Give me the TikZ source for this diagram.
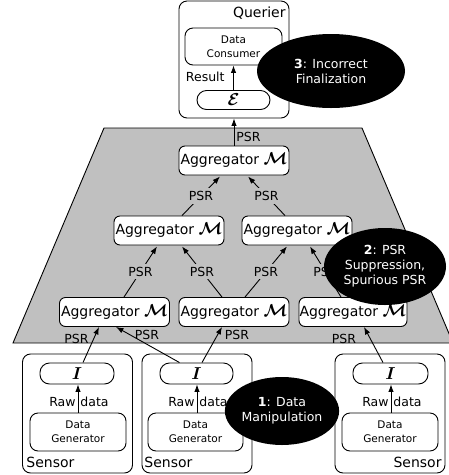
\documentclass[tikz,border=0pt]{standalone}
\usepackage{fontspec}
\setmainfont{DejaVu Sans}
\usepackage{bm}
\usetikzlibrary{arrows.meta,calc,shapes.geometric}
\newcommand\bigtxt{\fontsize{14}{16}\selectfont}
\newcommand\midtxt{\fontsize{12.5}{15}\selectfont}
\newcommand\smalltxt{\fontsize{10.5}{14}\selectfont}
\newcommand\symM{{\fontsize{16}{16}\selectfont$\bm{\mathcal{M}}$}}
\definecolor{trapgray}{RGB}{192,192,192}
\begin{document}
\begin{tikzpicture}[x=1pt,y=-1pt,line width=0.9pt,
  box/.style={draw,rounded corners=6pt,fill=white,inner sep=0pt},
  agg/.style={box,minimum width=110pt,minimum height=29pt,font=\bigtxt},
  pill/.style={box,rounded corners=9.5pt,minimum height=19pt},
  sensorbox/.style={draw,rounded corners=8pt,minimum width=110pt,minimum height=119pt,inner sep=0pt},
  genbox/.style={box,rounded corners=8pt,minimum width=96pt,minimum height=38pt,align=center,font=\smalltxt},
  arr/.style={-{Latex[length=7.5pt,width=5.5pt]}},
  lbl/.style={font=\midtxt,inner sep=2pt},
  onl/.style={lbl,fill=trapgray,inner sep=3pt},
  threat/.style={ellipse,fill=black,text=white,inner sep=0pt,align=center,font=\midtxt}
]
\useasboundingbox (0,0) rectangle (449,475);
\clip (0,0) rectangle (449,475);

% trust region
\draw[fill=trapgray] (104,128) -- (362,128) -- (453,343) -- (13,343) -- cycle;

% querier
\node[draw,rounded corners=8pt,minimum width=110pt,minimum height=117pt,inner sep=0pt] (q) at (234,59.5) {};
\node[font=\bigtxt,anchor=east,inner sep=1pt] (ql) at (287,13) {Querier};
\node[genbox,minimum width=97pt,minimum height=37pt] (dc) at (233.5,46.5) {Data\\Consumer};
\node[pill,minimum width=73pt] (e) at (233.5,100) {\fontsize{17}{17}\selectfont$\bm{\mathcal{E}}$};
\draw[arr] (e.north) -- (dc.south);
\node[lbl,anchor=east] (res) at (227,77) {Result};

% aggregators
\node[agg] (top) at (234,160.5) {Aggregator \symM};
\node[agg] (ml) at (169,230.5) {Aggregator \symM};
\node[agg] (mr) at (297,230.5) {Aggregator \symM};
\node[agg] (bl) at (114.5,312) {Aggregator \symM};
\node[agg] (bm) at (234,312) {Aggregator \symM};
\node[agg,minimum width=108pt] (br) at (353,312) {Aggregator \symM};

\draw[arr] (top.north) -- node[lbl,right,pos=0.3] {PSR} (q.south);
\draw[arr] ($(ml.north)+(13,0)$) -- node[onl] {PSR} ($(top.south)+(-14,1)$);
\draw[arr] ($(mr.north)+(-12,0)$) -- node[onl] {PSR} ($(top.south)+(14,1)$);
\draw[arr] ($(bl.north)+(9.5,0)$) -- node[onl] {PSR} ($(ml.south)+(-12,1)$);
\draw[arr] ($(bm.north)+(-12,0)$) -- node[onl] {PSR} ($(ml.south)+(13,1)$);
\draw[arr] ($(bm.north)+(11,0)$) -- node[onl] {PSR} ($(mr.south)+(-10,1)$);
\draw[arr] ($(br.north)+(-12,0)$) -- node[onl] {PSR} ($(mr.south)+(13,1)$);

% sensors
\node[sensorbox] (s1) at (77.5,413.5) {};
\node[sensorbox] (s2) at (197,413.5) {};
\node[sensorbox] (s3) at (390,413.5) {};
\node[font=\bigtxt,anchor=west,inner sep=1pt] (s1l) at (25,462) {Sensor};
\node[font=\bigtxt,anchor=west,inner sep=1pt] (s2l) at (143,462) {Sensor};
\node[font=\bigtxt,anchor=east,inner sep=1pt] (s3l) at (443,462) {Sensor};

\node[pill,minimum width=74pt,minimum height=21pt] (i1) at (77,373.5) {\fontsize{16}{16}\selectfont$\bm{I}$};
\node[pill,minimum width=73pt,minimum height=21pt] (i2) at (196.5,373.5) {\fontsize{16}{16}\selectfont$\bm{I}$};
\node[pill,minimum width=75pt,minimum height=21pt] (i3) at (390.5,373.5) {\fontsize{16}{16}\selectfont$\bm{I}$};

\node[genbox] (g1) at (78,432) {Data\\Generator};
\node[genbox,minimum width=95pt] (g2) at (195.5,432) {Data\\Generator};
\node[genbox] (g3) at (390,432) {Data\\Generator};

\draw[arr] (g1.north -| 78,0) -- (i1.south -| 78,0);
\draw[arr] (g2.north -| 197,0) -- (i2.south -| 197,0);
\draw[arr] (g3.north -| 391,0) -- (i3.south -| 391,0);
\foreach \x/\n in {78/a,197/b,391/c}{
  \node[lbl,anchor=east,inner sep=1pt] (raw\n) at (\x-1,402) {Raw};
  \node[lbl,anchor=west,inner sep=1pt] (dat\n) at (\x+1,402) {data};
}

\draw[arr] ($(i1.north)+(6,0)$) -- ($(bl.south)+(-15.5,0)$);
\node[lbl] (p1) at (76.5,339) {PSR};
\draw[arr] ($(i2.north)+(-17,0)$) -- ($(bl.south)+(1.5,0)$);
\node[lbl] (p2) at (147,335) {PSR};
\draw[arr] ($(i2.north)+(5.5,0)$) -- ($(bm.south)+(-12,0)$);
\node[lbl] (p3) at (237,335) {PSR};
\draw[arr] ($(i3.north)+(-7.5,0)$) -- ($(br.south)+(11,0)$);
\node[lbl] (p4) at (344,339) {PSR};

% threats
\node[threat,minimum width=148pt,minimum height=74pt] (t3) at (331,71) {\textbf{3}: Incorrect\\Finalization};
\node[threat,minimum width=122pt,minimum height=77pt,align=center] (t2) at (385,266.5) {\fontsize{12.5}{17}\selectfont\textbf{2}: PSR\\Suppression,\\Spurious PSR};
\node[threat,minimum width=110pt,minimum height=68pt] (t1) at (282,411) {\textbf{1}: Data\\Manipulation};
\end{tikzpicture}
\end{document}
